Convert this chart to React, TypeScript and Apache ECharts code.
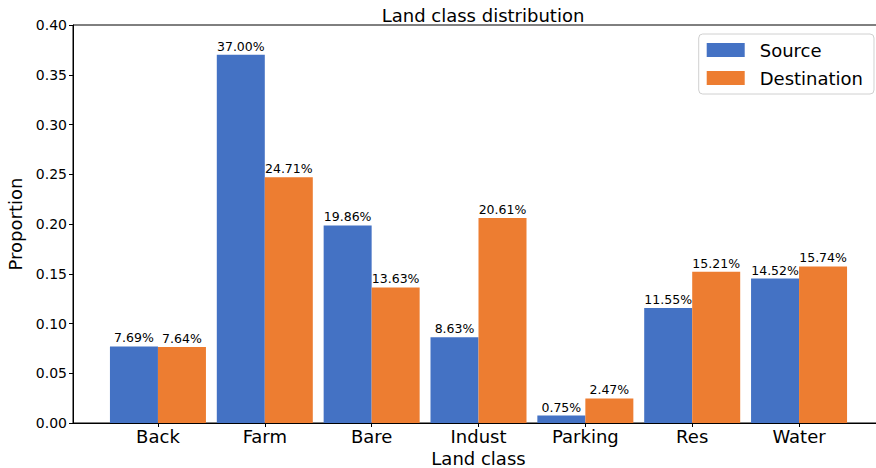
import React, { useEffect, useRef } from "react";
import * as echarts from "echarts";

const categories = ["Back", "Farm", "Bare", "Indust", "Parking", "Res", "Water"];
const sourceValues = [0.0769, 0.37, 0.1986, 0.0863, 0.0075, 0.1155, 0.1452];
const destinationValues = [0.0764, 0.2471, 0.1363, 0.2061, 0.0247, 0.1521, 0.1574];
const yTicks = [0, 0.05, 0.1, 0.15, 0.2, 0.25, 0.3, 0.35, 0.4];

const FONT = "DejaVu Sans";

export default function App() {
  const ref = useRef<HTMLDivElement>(null);
  useEffect(() => {
    if (!ref.current) return;
    const chart = echarts.init(ref.current, null, { renderer: "svg" });
    const idx = categories.map((_, i) => i);
    const label = {
      show: true,
      position: "top",
      distance: 2,
      color: "#000",
      fontFamily: FONT,
      fontSize: 12.5,
      formatter: (p: any) => (p.value[1] * 100).toFixed(2) + "%",
    };
    chart.setOption({
      animation: false,
      textStyle: { fontFamily: FONT },
      title: {
        text: "Land class distribution",
        left: 478,
        textAlign: "center",
        top: 1,
        textStyle: { fontFamily: FONT, fontSize: 18, fontWeight: "normal", color: "#000" },
      },
      legend: {
        orient: "vertical",
        right: 2,
        top: 34,
        itemWidth: 38,
        itemHeight: 14,
        itemGap: 10,
        padding: [7, 11, 7, 8],
        borderColor: "#d0d0d0",
        borderWidth: 1,
        borderRadius: 4,
        backgroundColor: "rgba(255,255,255,0.8)",
        icon: "rect",
        textStyle: { fontFamily: FONT, fontSize: 18, color: "#000", padding: [0, 0, 0, 10] },
        data: ["Source", "Destination"],
      },
      grid: {
        left: 73,
        top: 25,
        right: -8,
        bottom: 45,
        show: true,
        borderColor: "#000",
        borderWidth: 1,
        containLabel: false,
        outerBoundsMode: "none",
      },
      xAxis: {
        type: "value",
        min: -0.795,
        max: 6.795,
        name: "Land class",
        nameLocation: "middle",
        nameGap: 22,
        nameTextStyle: { fontFamily: FONT, fontSize: 18, color: "#000" },
        axisLine: { show: true, onZero: false, lineStyle: { color: "#000", width: 1 } },
        axisTick: { show: true, customValues: idx, length: 4, lineStyle: { color: "#000" } },
        axisLabel: {
          customValues: idx,
          formatter: (v: number) => categories[Math.round(v)] ?? "",
          fontFamily: FONT,
          fontSize: 18,
          color: "#000",
          margin: 4,
        },
        splitLine: { show: false },
      },
      yAxis: {
        type: "value",
        min: 0,
        max: 0.4,
        interval: 0.05,
        name: "Proportion",
        nameLocation: "middle",
        nameGap: 37,
        nameTextStyle: { fontFamily: FONT, fontSize: 18, color: "#000" },
        axisLine: { show: true, onZero: false, lineStyle: { color: "#000", width: 1 } },
        axisTick: { show: true, length: 4, lineStyle: { color: "#000" } },
        axisLabel: {
          formatter: (v: number) => v.toFixed(2),
          fontFamily: FONT,
          fontSize: 14,
          color: "#000",
          margin: 6,
          customValues: yTicks,
        },
        splitLine: { show: false },
      },
      series: [
        {
          name: "Source",
          type: "bar",
          barWidth: 48,
          barGap: "0%",
          itemStyle: { color: "#4472C4" },
          label,
          data: sourceValues.map((v, i) => [i, v]),
        },
        {
          name: "Destination",
          type: "bar",
          barWidth: 48,
          barGap: "0%",
          itemStyle: { color: "#ED7D31" },
          label,
          data: destinationValues.map((v, i) => [i, v]),
        },
      ],
    });
    return () => chart.dispose();
  }, []);
  return (
    <div
      ref={ref}
      style={{ position: "fixed", left: 0, top: 0, width: 876, height: 468, background: "#fff" }}
    />
  );
}
